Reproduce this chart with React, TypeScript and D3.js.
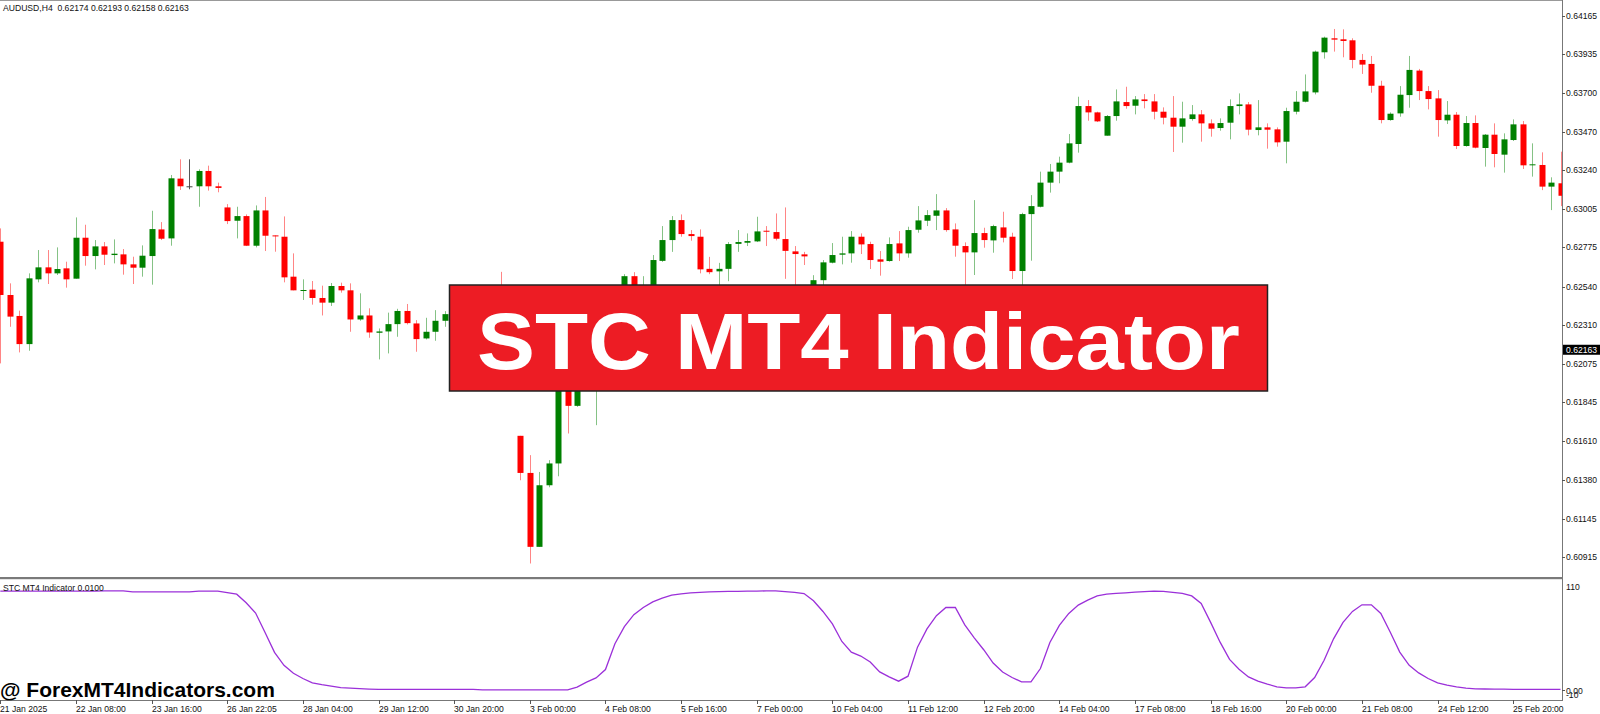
import * as d3 from 'd3'

const opens = [
  0.62809, 0.62489, 0.62363, 0.62194, 0.62583, 0.62655, 0.62619, 0.62649, 0.62587, 0.62833,
  0.62723, 0.62781, 0.62729, 0.62733, 0.62673, 0.62653, 0.62723, 0.62883, 0.62829, 0.63188,
  0.63142, 0.63142, 0.63234, 0.63142, 0.63015, 0.62935, 0.62963, 0.62785, 0.62997, 0.62847,
  0.62839, 0.62599, 0.62517, 0.62521, 0.62471, 0.62443, 0.62543, 0.62517, 0.62342, 0.62366,
  0.62262, 0.6227, 0.62314, 0.62393, 0.62318, 0.62228, 0.62268, 0.62334, 0.62374, 0.6241,
  0.6236, 0.624, 0.6238, 0.6244, 0.6236, 0.61643, 0.6142, 0.60976, 0.61346, 0.61477,
  0.6205, 0.61823, 0.621, 0.622, 0.6235, 0.6245, 0.625, 0.62602, 0.625, 0.6254,
  0.62694, 0.62819, 0.62939, 0.62855, 0.62839, 0.62646, 0.62631, 0.62646, 0.62796, 0.62803,
  0.62811, 0.62875, 0.62867, 0.62825, 0.62751, 0.62733, 0.625, 0.62578, 0.62683, 0.62731,
  0.62739, 0.62839, 0.62795, 0.62703, 0.62693, 0.62799, 0.62739, 0.62881, 0.62935, 0.62965,
  0.62997, 0.62883, 0.62783, 0.62745, 0.62861, 0.62817, 0.62895, 0.62839, 0.62633, 0.62975,
  0.63019, 0.63164, 0.6323, 0.63284, 0.63396, 0.63624, 0.63586, 0.63446, 0.63564, 0.63648,
  0.63626, 0.63664, 0.63652, 0.6359, 0.63554, 0.635, 0.63546, 0.63574, 0.6352, 0.63492,
  0.63524, 0.63624, 0.63634, 0.6348, 0.63496, 0.63484, 0.6341, 0.6359, 0.6365, 0.63706,
  0.63947, 0.64031, 0.64025, 0.64019, 0.63901, 0.63877, 0.63746, 0.6354, 0.6358, 0.6369,
  0.63837, 0.63714, 0.6367, 0.63538, 0.63572, 0.63384, 0.63522, 0.63372, 0.63452, 0.63332,
  0.6342, 0.63514, 0.63268, 0.6327, 0.6314, 0.6316,
]

const highs = [
  0.62889, 0.62559, 0.62395, 0.62619, 0.62759, 0.62759, 0.62775, 0.62689, 0.62955, 0.62911,
  0.62819, 0.62807, 0.62823, 0.62765, 0.62719, 0.62787, 0.62995, 0.62927, 0.6321, 0.63304,
  0.63304, 0.63244, 0.63266, 0.63164, 0.63035, 0.63019, 0.62973, 0.63027, 0.63078, 0.62847,
  0.62961, 0.62739, 0.62583, 0.62573, 0.62545, 0.62561, 0.62563, 0.62559, 0.62499, 0.62409,
  0.62288, 0.62383, 0.62406, 0.62435, 0.62338, 0.62352, 0.62398, 0.62392, 0.6245, 0.6246,
  0.6244, 0.6248, 0.625, 0.62628, 0.624, 0.61643, 0.61527, 0.61426, 0.61497, 0.621,
  0.6212, 0.6216, 0.6228, 0.6242, 0.6252, 0.6254, 0.62614, 0.62626, 0.62602, 0.62729,
  0.62903, 0.62963, 0.62973, 0.62879, 0.62883, 0.62718, 0.62682, 0.62807, 0.62879, 0.62859,
  0.62959, 0.62903, 0.62979, 0.63015, 0.62783, 0.62748, 0.62608, 0.62699, 0.62801, 0.62839,
  0.62873, 0.62859, 0.62809, 0.62753, 0.62835, 0.62873, 0.62899, 0.63023, 0.62999, 0.63095,
  0.63011, 0.62919, 0.62805, 0.63059, 0.62893, 0.62911, 0.62989, 0.62863, 0.62983, 0.63089,
  0.6323, 0.63276, 0.6332, 0.63456, 0.6368, 0.6366, 0.6359, 0.6357, 0.63724, 0.6374,
  0.63684, 0.63696, 0.63696, 0.63616, 0.63684, 0.6365, 0.6363, 0.636, 0.63544, 0.6355,
  0.63664, 0.637, 0.63648, 0.6366, 0.6352, 0.63496, 0.63614, 0.63714, 0.63814, 0.63957,
  0.64041, 0.64087, 0.64085, 0.64031, 0.63937, 0.63925, 0.63776, 0.63586, 0.63744, 0.63925,
  0.63847, 0.63744, 0.6372, 0.63654, 0.63588, 0.63564, 0.63568, 0.63456, 0.6352, 0.6346,
  0.63544, 0.63534, 0.634, 0.63346, 0.63196, 0.6335,
]

const lows = [
  0.62078, 0.62298, 0.62144, 0.62154, 0.62565, 0.62555, 0.62609, 0.62533, 0.62587, 0.62665,
  0.62643, 0.62669, 0.62679, 0.62611, 0.62555, 0.62599, 0.62551, 0.62819, 0.62785, 0.6312,
  0.63124, 0.63019, 0.63116, 0.63106, 0.62915, 0.62829, 0.62783, 0.62775, 0.62753, 0.62749,
  0.62565, 0.62517, 0.62459, 0.62431, 0.62366, 0.62423, 0.62503, 0.62268, 0.62334, 0.62232,
  0.62102, 0.62138, 0.62238, 0.62312, 0.62148, 0.62222, 0.62214, 0.62298, 0.6233, 0.6232,
  0.623, 0.6234, 0.6235, 0.6232, 0.622, 0.61376, 0.60876, 0.60976, 0.61334, 0.614,
  0.61657, 0.61817, 0.62, 0.61707, 0.6228, 0.6238, 0.624, 0.6242, 0.624, 0.6246,
  0.62688, 0.62748, 0.62839, 0.62815, 0.62619, 0.62614, 0.6252, 0.62572, 0.62748, 0.62783,
  0.62807, 0.62783, 0.62817, 0.62586, 0.625, 0.62669, 0.6244, 0.62545, 0.62679, 0.62673,
  0.62683, 0.62735, 0.62645, 0.62605, 0.62689, 0.62693, 0.62713, 0.62863, 0.62903, 0.62879,
  0.62869, 0.62719, 0.6252, 0.62609, 0.62773, 0.62743, 0.62805, 0.62585, 0.625, 0.62695,
  0.63015, 0.63104, 0.6316, 0.6328, 0.63344, 0.63536, 0.63528, 0.63446, 0.63536, 0.63608,
  0.63574, 0.6361, 0.63544, 0.63514, 0.63348, 0.63404, 0.63536, 0.6341, 0.6344, 0.63476,
  0.63424, 0.63574, 0.63448, 0.63448, 0.63368, 0.6338, 0.6328, 0.63574, 0.63646, 0.63694,
  0.63909, 0.63951, 0.63917, 0.63851, 0.63817, 0.63704, 0.6352, 0.63536, 0.6356, 0.63614,
  0.6366, 0.63604, 0.6344, 0.63516, 0.63366, 0.6338, 0.6337, 0.6326, 0.63256, 0.63224,
  0.63414, 0.63246, 0.632, 0.63119, 0.62999, 0.63023,
]

const closes = [
  0.62489, 0.62359, 0.62194, 0.62589, 0.62655, 0.62619, 0.62645, 0.62583, 0.62833, 0.62723,
  0.62781, 0.62731, 0.62737, 0.62673, 0.62653, 0.62725, 0.62885, 0.62827, 0.6319, 0.63142,
  0.63142, 0.63234, 0.63142, 0.63132, 0.62933, 0.62963, 0.62785, 0.62997, 0.62845, 0.62843,
  0.62595, 0.62517, 0.62519, 0.62471, 0.62443, 0.62543, 0.62517, 0.62342, 0.62366, 0.62264,
  0.6227, 0.62314, 0.62393, 0.6232, 0.62224, 0.62268, 0.62334, 0.62374, 0.6241, 0.6236,
  0.624, 0.6238, 0.6244, 0.6236, 0.6228, 0.6142, 0.60976, 0.61346, 0.61477, 0.6205,
  0.61823, 0.621, 0.622, 0.6235, 0.6245, 0.6252, 0.62602, 0.625, 0.6254, 0.62699,
  0.62819, 0.62939, 0.62855, 0.62843, 0.62643, 0.62626, 0.62646, 0.62795, 0.62807, 0.62813,
  0.62871, 0.62869, 0.62827, 0.62754, 0.62735, 0.62721, 0.62578, 0.62685, 0.62729, 0.62739,
  0.62839, 0.62793, 0.62699, 0.62689, 0.62795, 0.62739, 0.62879, 0.62937, 0.62969, 0.62997,
  0.62879, 0.62785, 0.62745, 0.62861, 0.62819, 0.62903, 0.62833, 0.62633, 0.62975, 0.63023,
  0.63164, 0.6323, 0.63284, 0.634, 0.63624, 0.63586, 0.63532, 0.63564, 0.63652, 0.63624,
  0.63664, 0.63654, 0.6359, 0.63554, 0.635, 0.6355, 0.63574, 0.6352, 0.63488, 0.63522,
  0.63624, 0.63634, 0.63482, 0.63496, 0.63482, 0.63406, 0.63594, 0.6365, 0.63712, 0.63951,
  0.64035, 0.64023, 0.64015, 0.63901, 0.63873, 0.63746, 0.6354, 0.63578, 0.63692, 0.63841,
  0.63714, 0.63666, 0.6354, 0.63572, 0.63384, 0.63522, 0.63374, 0.63452, 0.63336, 0.63424,
  0.63514, 0.63268, 0.63274, 0.6314, 0.63164, 0.63085,
]

const stc = [
  99.8, 99.8, 99.8, 99.8, 99.8, 99.8, 99.8, 99.8, 99.8, 99.8,
  99.8, 100, 100, 100, 99, 99, 99, 99, 99, 99,
  99, 99.8, 99.8, 99.8, 98.2, 96.7, 88, 77.7, 58, 38,
  25, 17, 11.7, 7.3, 5.5, 4, 2.5, 2, 1.5, 1,
  0.7, 0.7, 0.7, 0.7, 0.7, 0.7, 0.7, 0.7, 0.7, 0.7,
  0.7, 0.3, 0.3, 0.3, 0.3, 0.3, 0.3, 0.3, 0.3, 0.3,
  0.3, 3, 8, 12.3, 20.7, 46.7, 64, 76, 83.3, 89,
  92.7, 95.7, 97, 98, 98.6, 99, 99.3, 99.5, 99.6, 99.7,
  99.8, 100, 100, 99.2, 98.5, 97.3, 90, 79.3, 66.7, 49,
  38.3, 34.3, 28.3, 18.3, 13.3, 9, 14, 43.3, 61.7, 75,
  83.3, 83.3, 65.7, 52.7, 40.7, 27.3, 18.3, 12.7, 8.3, 8.3,
  21.7, 48, 65.3, 77.3, 85.7, 90.7, 95, 96.7, 97.5, 98,
  98.7, 99.2, 99.7, 99.5, 98.5, 97.5, 95, 87.3, 68.3, 48.3,
  31, 21, 13.3, 9, 6, 3.3, 2.3, 2.3, 3.3, 12.7,
  30, 51.7, 68.3, 79.3, 86, 86, 77.3, 58.3, 38.3, 25,
  17.3, 11.7, 7.3, 5, 3.3, 2, 1.3, 1.1, 1, 0.9,
  0.8, 0.8, 0.7, 0.7, 0.7, 0.7,
]

const priceTicks = [
  0.64165, 0.63935, 0.637, 0.6347, 0.6324, 0.63005, 0.62775, 0.6254,
  0.6231, 0.62075, 0.61845, 0.6161, 0.6138, 0.61145, 0.60915,
]

const dateLabels = [
  '21 Jan 2025', '22 Jan 08:00', '23 Jan 16:00', '26 Jan 22:05', '28 Jan 04:00',
  '29 Jan 12:00', '30 Jan 20:00', '3 Feb 00:00', '4 Feb 08:00', '5 Feb 16:00',
  '7 Feb 00:00', '10 Feb 04:00', '11 Feb 12:00', '12 Feb 20:00', '14 Feb 04:00',
  '17 Feb 08:00', '18 Feb 16:00', '20 Feb 00:00', '21 Feb 08:00', '24 Feb 12:00',
  '25 Feb 20:00',
]

const header = 'AUDUSD,H4  0.62174 0.62193 0.62158 0.62163'
const lastPrice = 0.62163

const W = 1600
const H = 714
const axisX = 1562
const font = "'Liberation Sans', Arial, sans-serif"

export default function App() {
  const x = d3.scaleLinear().domain([0, opens.length - 1]).range([0.3, 1560.5])
  const y = d3.scaleLinear().domain([0.60915, 0.64165]).range([557, 16])
  const yS = d3.scaleLinear().domain([-10, 110]).range([700, 581])

  const stcLine = d3.line<number>()
    .x((_, i) => x(i))
    .y(d => yS(d))

  return (
    <svg width={W} height={H} style={{ position: 'absolute', left: 0, top: 0, display: 'block', background: '#fff' }}>
      <defs>
        <clipPath id="main-clip">
          <rect x={0} y={1} width={axisX} height={576} />
        </clipPath>
        <clipPath id="ind-clip">
          <rect x={0} y={580} width={axisX} height={120} />
        </clipPath>
      </defs>
      <rect x={0} y={0} width={W} height={H} fill="#fff" />

      {/* candles */}
      <g clipPath="url(#main-clip)">
        {opens.map((o, i) => {
          const c = closes[i]
          const cx = Math.round(x(i)) + 0.5
          const up = c > o
          const doji = c === o
          const body = doji ? '#444' : up ? '#008000' : '#ff0000'
          const top = y(Math.max(o, c))
          const bot = y(Math.min(o, c))
          return (
            <g key={i}>
              <line x1={cx} x2={cx} y1={y(highs[i])} y2={y(lows[i])}
                stroke={body} strokeOpacity={doji ? 0.9 : 0.48} strokeWidth={1} />
              <rect x={cx - 3} y={top} width={6} height={Math.max(1, bot - top)} fill={body} />
            </g>
          )
        })}
      </g>

      {/* frame */}
      <line x1={0} x2={axisX} y1={0.5} y2={0.5} stroke="#999" />
      <line x1={axisX + 0.5} x2={axisX + 0.5} y1={0} y2={701} stroke="#777" />
      <rect x={0} y={577} width={axisX + 1} height={2.2} fill="#7a7a7a" />
      <line x1={0} x2={axisX} y1={700.5} y2={700.5} stroke="#777" />

      <text x={3} y={10.5} fontFamily={font} fontSize={8.6} fill="#111" style={{ whiteSpace: 'pre' }}>{header}</text>

      {/* price axis */}
      {priceTicks.map(p => (
        <g key={p}>
          <line x1={axisX} x2={axisX + 3} y1={Math.round(y(p)) + 0.5} y2={Math.round(y(p)) + 0.5} stroke="#555" />
          <text x={axisX + 4} y={y(p) + 3} fontFamily={font} fontSize={8.6} fill="#111">{p.toFixed(5)}</text>
        </g>
      ))}
      <rect x={axisX + 1} y={y(lastPrice) - 4.5} width={W - axisX - 1} height={10} fill="#000" />
      <text x={axisX + 4} y={y(lastPrice) + 3.6} fontFamily={font} fontSize={8.6} fill="#fff">{lastPrice.toFixed(5)}</text>

      {/* STC panel */}
      <g clipPath="url(#ind-clip)">
        <path d={stcLine(stc) ?? ''} fill="none" stroke="#9b30d9" strokeWidth={1.3} />
      </g>
      <text x={3} y={591} fontFamily={font} fontSize={8.6} fill="#111">STC MT4 Indicator 0.0100</text>
      <text x={axisX + 4} y={589.5} fontFamily={font} fontSize={8.6} fill="#111">110</text>
      <line x1={axisX} x2={axisX + 3} y1={Math.round(yS(0)) + 0.5} y2={Math.round(yS(0)) + 0.5} stroke="#555" />
      {/* the two bottom scale labels overlap in the original as well */}
      <text x={axisX + 4} y={yS(0) + 3.5} fontFamily={font} fontSize={8.6} fill="#111">0.00</text>
      <text x={axisX + 4} y={yS(-10) - 2} fontFamily={font} fontSize={8.6} fill="#111">-10</text>

      {/* time axis */}
      {dateLabels.map((d, k) => {
        const tx = Math.round(x(k * 8)) + 0.5
        return (
          <g key={d}>
            <line x1={tx} x2={tx} y1={700} y2={704} stroke="#555" />
            <text x={tx - 0.5} y={711.5} fontFamily={font} fontSize={8.6} fill="#111">{d}</text>
          </g>
        )
      })}

      <text x={0} y={696.5} fontFamily={font} fontSize={21} fontWeight="bold" fill="#000">@ ForexMT4Indicators.com</text>

      {/* banner */}
      <rect x={449.5} y={285} width={818} height={106} fill="#ed1c24" stroke="#222" strokeWidth={1.5} />
      <text transform="translate(477,369) scale(1.1,1)" fontFamily={font} fontSize={79} fontWeight="bold" fill="#fff">
        STC MT4 Indicator
      </text>
    </svg>
  )
}
